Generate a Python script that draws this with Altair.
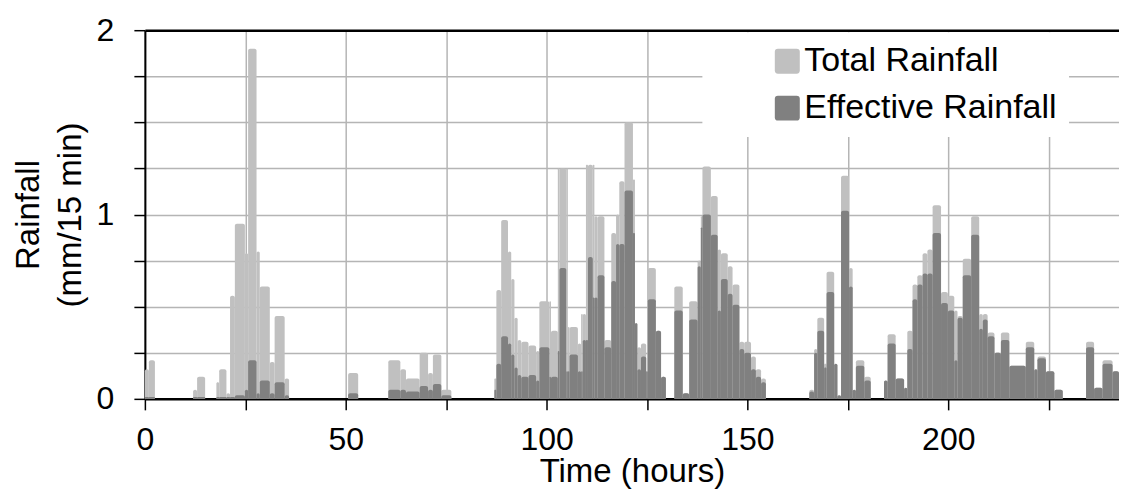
import altair as alt
import pandas as pd

# Segments of the hyetograph: start hour, end hour, total rainfall, effective rainfall (mm/15 min)
seg_start = [0.0, 1.0, 12.0, 13.0, 17.8, 18.5, 20.3, 21.2, 22.4, 24.9, 25.7, 27.8, 28.6, 31.1, 32.3, 34.8,
             50.6, 60.6, 63.6, 65.0, 68.4, 70.5, 71.7, 73.8,
             87.0, 87.5, 88.7, 90.4, 91.2, 92.0, 92.8, 93.7, 95.5, 97.4, 98.2, 100.7, 101.1, 102.8, 103.2,
             104.9, 105.3, 105.7, 107.8, 108.6, 109.0, 109.8, 110.3, 111.5, 111.9, 112.7, 114.4, 116.1,
             117.3, 118.1, 119.4, 121.5, 122.0, 122.6, 123.5, 124.8, 125.2, 127.2, 128.5,
             131.8, 133.9, 135.5, 137.6, 138.4, 138.8, 140.9, 142.6, 143.4, 145.1, 146.3, 148.0, 149.2,
             150.9, 152.1, 153.4,
             165.4, 166.6, 167.4, 169.1, 169.7, 171.6, 172.4, 173.3, 175.3, 176.2, 177.0, 179.1,
             184.0, 184.9, 186.9, 189.0, 189.8, 191.1, 192.3, 193.6, 194.8, 196.1, 198.2, 199.9, 201.5,
             202.3, 203.6, 205.7, 207.7, 208.6, 209.8, 211.5, 213.1, 215.2, 219.3, 221.4, 222.2, 224.3,
             226.4, 234.3, 236.3, 238.4, 240.9]
seg_end = [1.0, 2.5, 13.0, 15.0, 18.5, 20.3, 21.2, 22.4, 24.9, 25.7, 27.8, 28.6, 31.1, 32.3, 34.8, 35.9,
           53.1, 63.6, 65.0, 68.4, 70.5, 71.7, 73.8, 76.3,
           87.5, 88.7, 90.4, 91.2, 92.0, 92.8, 93.7, 95.5, 97.4, 98.2, 100.7, 101.1, 102.8, 103.2, 104.9,
           105.3, 105.7, 107.8, 108.6, 109.0, 109.8, 110.3, 111.5, 111.9, 112.7, 114.4, 116.1, 117.3,
           118.1, 119.4, 121.5, 122.0, 122.6, 123.5, 124.8, 125.2, 127.2, 128.5, 129.7,
           133.9, 135.5, 137.6, 138.4, 138.8, 140.9, 142.6, 143.4, 145.1, 146.3, 148.0, 149.2, 150.9,
           152.1, 153.4, 154.6,
           166.6, 167.4, 169.1, 169.7, 171.6, 172.4, 173.3, 175.3, 176.2, 177.0, 179.1, 180.7,
           184.9, 186.9, 189.0, 189.8, 191.1, 192.3, 193.6, 194.8, 196.1, 198.2, 199.9, 201.5, 202.3,
           203.6, 205.7, 207.7, 208.6, 209.8, 211.5, 213.1, 215.2, 219.3, 221.4, 222.2, 224.3, 226.4,
           228.5, 236.3, 238.4, 240.9, 242.5]
total = [0.16, 0.21, 0.05, 0.12, 0.09, 0.16, 0.03, 0.56, 0.95, 0.79, 1.90, 0.80, 0.61, 0.20, 0.45, 0.11,
         0.14, 0.21, 0.16, 0.11, 0.25, 0.14, 0.24, 0.05,
         0.11, 0.59, 0.97, 0.80, 0.65, 0.44, 0.32, 0.31, 0.29, 0.26, 0.53, 0.53, 0.37, 1.25, 1.25,
         1.25, 0.39, 0.39, 0.30, 0.46, 0.46, 1.27, 1.27, 1.27, 0.99, 0.99, 0.32, 0.90,
         1.00, 1.18, 1.50, 1.19, 0.41, 0.28, 0.30, 0.15, 0.71, 0.37, 0.12,
         0.61, 0.03, 0.53, 0.75, 0.99, 1.26, 1.10, 0.81, 0.79, 0.72, 0.62, 0.31, 0.31,
         0.23, 0.16, 0.11,
         0.05, 0.27, 0.44, 0.19, 0.69, 0.19, 0.02, 1.21, 0.71, 0.05, 0.21, 0.12,
         0.10, 0.35, 0.11, 0.06, 0.37, 0.62, 0.67, 0.79, 0.81, 1.05, 0.58, 0.56, 0.48,
         0.45, 0.76, 0.99, 0.46, 0.46, 0.36, 0.25, 0.36, 0.18, 0.31, 0.16, 0.23, 0.15,
         0.05, 0.31, 0.06, 0.21, 0.15]
effective = [0.01, 0.01, 0.01, 0.01, 0.01, 0.01, 0.01, 0.01, 0.02, 0.05, 0.21, 0.03, 0.10, 0.03, 0.09, 0.02,
             0.03, 0.05, 0.05, 0.04, 0.07, 0.05, 0.08, 0.02,
             0.05, 0.19, 0.34, 0.30, 0.24, 0.17, 0.13, 0.12, 0.13, 0.10, 0.28, 0.12, 0.12, 0.26, 0.71,
             0.15, 0.15, 0.24, 0.15, 0.15, 0.32, 0.32, 0.77, 0.55, 0.55, 0.67, 0.28, 0.64,
             0.84, 0.84, 1.13, 0.90, 0.41, 0.16, 0.23, 0.15, 0.54, 0.37, 0.12,
             0.48, 0.03, 0.43, 0.72, 0.93, 1.00, 0.89, 0.48, 0.65, 0.57, 0.51, 0.27, 0.25,
             0.16, 0.12, 0.09,
             0.04, 0.25, 0.37, 0.17, 0.58, 0.19, 0.02, 1.02, 0.61, 0.05, 0.18, 0.10,
             0.10, 0.30, 0.11, 0.06, 0.27, 0.54, 0.62, 0.68, 0.68, 0.90, 0.52, 0.48, 0.21,
             0.44, 0.67, 0.89, 0.38, 0.43, 0.34, 0.25, 0.32, 0.18, 0.28, 0.16, 0.22, 0.15,
             0.05, 0.28, 0.06, 0.19, 0.15]

series_names = ["Total Rainfall", "Effective Rainfall"]
series_colors = ["#c0c0c0", "#808080"]
x_ticks = [0, 25, 50, 75, 100, 125, 150, 175, 200, 225]
y_ticks = [0, 0.25, 0.5, 0.75, 1, 1.25, 1.5, 1.75, 2]

rows = []
for k, (name, vals) in enumerate(zip(series_names, [total, effective])):
    for s, e, v in zip(seg_start, seg_end, vals):
        rows.append({"series": name, "k": k, "start": s, "end": e, "value": v, "base": 0})
df = pd.DataFrame(rows)

FONT = "Liberation Sans"
GRID = "#b5b5b5"
rounded = "M -0.75,-1 H 0.75 Q 1,-1 1,-0.75 V 0.75 Q 1,1 0.75,1 H -0.75 Q -1,1 -1,0.75 V -0.75 Q -1,-1 -0.75,-1 Z"

x_axis = alt.Axis(title="Time (hours)", values=x_ticks,
                  labelExpr="datum.value % 50 == 0 ? datum.label : ''",
                  labelFlush=False, labelOverlap=False,
                  grid=True, gridColor=GRID, gridWidth=1.5,
                  domainColor="black", domainWidth=2.5,
                  tickColor="black", tickWidth=1.5, tickSize=11,
                  labelPadding=15, titlePadding=0,
                  labelFontSize=32, titleFontSize=33,
                  labelFont=FONT, titleFont=FONT,
                  labelColor="black", titleColor="black",
                  titleFontWeight="normal")

y_axis = alt.Axis(title=["Rainfall", "(mm/15 min)"], values=y_ticks,
                  labelExpr="datum.value % 1 == 0 ? format(datum.value, 'd') : ''",
                  labelFlush=False, labelOverlap=False,
                  grid=True,
                  gridColor={"condition": {"test": "datum.value == 2", "value": "black"}, "value": GRID},
                  gridWidth={"condition": {"test": "datum.value == 2", "value": 2.5}, "value": 1.5},
                  domainColor="black", domainWidth=2,
                  tickColor="black", tickWidth=1.5, tickSize=11,
                  labelPadding=20, titlePadding=9, titleLineHeight=42,
                  labelFontSize=32, titleFontSize=33,
                  labelFont=FONT, titleFont=FONT,
                  labelColor="black", titleColor="black",
                  titleFontWeight="normal")

chart = alt.Chart(df).mark_rect(cornerRadiusTopLeft=2, cornerRadiusTopRight=2).encode(
    x=alt.X("start:Q", scale=alt.Scale(domain=[0, 242.5], nice=False, zero=False), axis=x_axis),
    x2="end:Q",
    y=alt.Y("value:Q", scale=alt.Scale(domain=[0, 2], nice=False), axis=y_axis),
    y2="base:Q",
    color=alt.Color("series:N",
                    scale=alt.Scale(domain=series_names, range=series_colors),
                    legend=alt.Legend(title=None, orient="none", legendX=558, legendY=2,
                                      fillColor="white", padding=12, symbolOffset=56,
                                      symbolType=rounded, symbolSize=625, symbolStrokeWidth=0,
                                      labelFontSize=34, labelFont=FONT, labelColor="black",
                                      labelExpr="datum.label + '\u00a0\u00a0\u00a0\u00a0\u00a0'",
                                      labelLimit=600, labelOffset=0, rowPadding=13)),
    order=alt.Order("k:Q"),
).properties(
    width=975, height=369,
    padding={"left": 137, "top": 22, "right": 0, "bottom": 90},
    autosize=alt.AutoSizeParams(type="none"),
).configure_view(stroke=None).configure(background="white")

chart.save("out.html", embed_options={"renderer": "svg", "actions": False})
